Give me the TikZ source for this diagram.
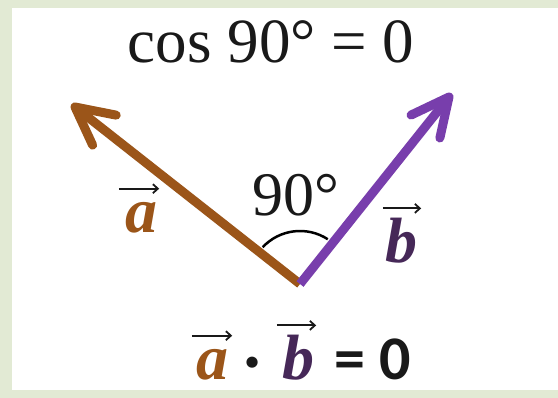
\documentclass[tikz,border=0pt]{standalone}
\usepackage{fontspec}
\setmainfont{Liberation Serif}
\newfontfamily\calib{Carlito}
\usetikzlibrary{arrows.meta,calc}
\definecolor{bord}{RGB}{226,234,212}
\definecolor{brownv}{RGB}{155,85,25}
\definecolor{purplev}{RGB}{120,62,172}
\definecolor{bdark}{RGB}{70,40,88}
\definecolor{txt}{RGB}{25,25,25}
\tikzset{
  vecline/.style={line width=9pt},
  headline/.style={line width=9pt, line cap=round, line join=round},
  overarrow/.style={line width=1.8pt, txt, -{Straight Barb[length=5pt,width=9pt]}},
  letter/.style={inner sep=0pt, anchor=base, font=\fontsize{64}{66}\selectfont\bfseries\itshape},
  bigtext/.style={inner sep=0pt, anchor=base, text=txt, font=\fontsize{63}{66}\selectfont},
}
\begin{document}
\begin{tikzpicture}[x=1pt,y=1pt]
\fill[bord] (0,0) rectangle (558,398);
\fill[white] (12,8) rectangle (558,390);
\useasboundingbox (0,0) rectangle (558,398);

\coordinate (O) at (300,114);
\coordinate (A) at (75,291);
\coordinate (B) at (449,301);

\draw[vecline, brownv] (O) -- ($(A)!3pt!(O)$);
\draw[headline, brownv] ($(A)!42pt!27:(O)$) -- (A) -- ($(A)!42pt!-27:(O)$);
\draw[vecline, purplev] (O) -- ($(B)!3pt!(O)$);
\draw[headline, purplev] ($(B)!42pt!26:(O)$) -- (B) -- ($(B)!42pt!-26:(O)$);

\draw[line width=2.5pt, black] ([shift={(137:51)}]300,116) arc[start angle=137, end angle=57, radius=51];

\node[bigtext] (cos) at (271,335) {cos 90° = 0};
\node[bigtext, font=\fontsize{62}{64}\selectfont] (deg) at (296,182) {90°};

\node[letter, text=brownv] (va) at (141,165) {a};
\draw[overarrow] ([yshift=14pt,xshift=-6pt]va.north west) -- ([yshift=14pt,xshift=2pt]va.north east);

\node[letter, text=bdark] (vb) at (401,135) {b};
\draw[overarrow] ([yshift=10pt,xshift=-2pt]vb.north west) -- ([yshift=10pt,xshift=4pt]vb.north east);

\node[letter, text=brownv] (ba) at (212,18) {a};
\draw[overarrow] ([yshift=14pt,xshift=-4pt]ba.north west) -- ([yshift=14pt,xshift=4pt]ba.north east);
\node[inner sep=0pt, font=\calib\bfseries\fontsize{60}{64}\selectfont, text=txt] (dot) at (253,30) {·};
\node[letter, text=bdark] (bb) at (298,18) {b};
\draw[overarrow] ([yshift=10pt,xshift=-5pt]bb.north west) -- ([yshift=10pt,xshift=2pt]bb.north east);
\node[inner sep=0pt, anchor=base west, font=\calib\bfseries\fontsize{62}{64}\selectfont, text=txt] (eq) at (334,18) {= 0};
\end{tikzpicture}
\end{document}
